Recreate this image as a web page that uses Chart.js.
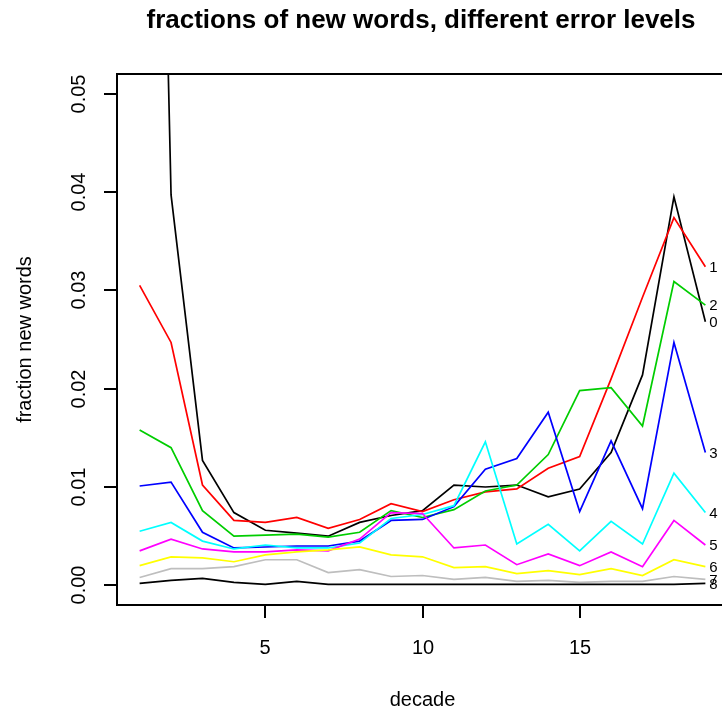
<!DOCTYPE html>
<html>
<head>
<meta charset="utf-8">
<script src="https://cdn.jsdelivr.net/npm/chart.js@4/dist/chart.umd.min.js"></script>
<style>
  html, body { margin: 0; padding: 0; background: #fff; overflow: hidden; width: 722px; height: 714px; }
  #wrap { position: relative; width: 760px; height: 714px; }
</style>
</head>
<body>
<div id="wrap"><canvas id="c" width="760" height="714"></canvas></div>
<script>
// decades on the x axis
const decades = [1,2,3,4,5,6,7,8,9,10,11,12,13,14,15,16,17,18,19];

// fraction of new words per decade, one series per error level
const err0 = [0.18, 0.0397, 0.0127, 0.0074, 0.0056, 0.0053, 0.0050, 0.0064, 0.0071, 0.0076, 0.0102, 0.0100, 0.0102, 0.0090, 0.0098, 0.0135, 0.0214, 0.0395, 0.0268];
const err1 = [0.0305, 0.0247, 0.0102, 0.0066, 0.0064, 0.0069, 0.0058, 0.0067, 0.0083, 0.0075, 0.0087, 0.0095, 0.0098, 0.0119, 0.0131, 0.0210, 0.0293, 0.0374, 0.0324];
const err2 = [0.0158, 0.0140, 0.0076, 0.0050, 0.0051, 0.0052, 0.0049, 0.0054, 0.0076, 0.0069, 0.0077, 0.0096, 0.0102, 0.0133, 0.0198, 0.0201, 0.0162, 0.0309, 0.0285];
const err3 = [0.0101, 0.0105, 0.0054, 0.0038, 0.0039, 0.0040, 0.0040, 0.0045, 0.0066, 0.0067, 0.0080, 0.0118, 0.0129, 0.0176, 0.0075, 0.0147, 0.0078, 0.0247, 0.0135];
const err4 = [0.0055, 0.0064, 0.0045, 0.0037, 0.0041, 0.0038, 0.0038, 0.0043, 0.0068, 0.0072, 0.0081, 0.0146, 0.0042, 0.0062, 0.0035, 0.0065, 0.0042, 0.0114, 0.0074];
const err5 = [0.0035, 0.0047, 0.0037, 0.0034, 0.0034, 0.0036, 0.0035, 0.0047, 0.0074, 0.0073, 0.0038, 0.0041, 0.0021, 0.0032, 0.0020, 0.0034, 0.0019, 0.0066, 0.0041];
const err6 = [0.0020, 0.0029, 0.0028, 0.0024, 0.0031, 0.0034, 0.0036, 0.0039, 0.0031, 0.0029, 0.0018, 0.0019, 0.0012, 0.0015, 0.0011, 0.0017, 0.0010, 0.0026, 0.0019];
const err7 = [0.0008, 0.0017, 0.0017, 0.0019, 0.0026, 0.0026, 0.0013, 0.0016, 0.0009, 0.0010, 0.0006, 0.0008, 0.0004, 0.0005, 0.0003, 0.0004, 0.0004, 0.0009, 0.0006];
const err8 = [0.0002, 0.0005, 0.0007, 0.0003, 0.0001, 0.0004, 0.0001, 0.0001, 0.0001, 0.0001, 0.0001, 0.0001, 0.0001, 0.0001, 0.0001, 0.0001, 0.0001, 0.0001, 0.0002];

const levelLabels = ['0','1','2','3','4','5','6','7','8'];
const levelColors = ['#000000','#FF0000','#00CD00','#0000FF','#00FFFF','#FF00FF','#FFFF00','#BEBEBE','#000000'];

const xTicks = [5, 10, 15];
const yTicks = [0.00, 0.01, 0.02, 0.03, 0.04, 0.05];
const yTickLabels = ['0.00','0.01','0.02','0.03','0.04','0.05'];

const titleText = 'fractions of new words, different error levels';
const xTitle = 'decade';
const yTitle = 'fraction new words';

const series = [err0, err1, err2, err3, err4, err5, err6, err7, err8];

const datasets = series.map((vals, i) => ({
  label: levelLabels[i],
  data: decades.map((d, j) => ({ x: d, y: vals[j] })),
  borderColor: levelColors[i],
  borderWidth: 1.7,
  pointRadius: 0,
  tension: 0,
  fill: false,
  order: series.length - 1 - i
}));

const FONT = '"Liberation Sans", Arial, Helvetica, sans-serif';

// frame, axes, titles and end-of-line labels in base-graphics style
const framePlugin = {
  id: 'frame',
  afterDraw(chart) {
    const ctx = chart.ctx;
    const a = chart.chartArea;
    const xs = chart.scales.x, ys = chart.scales.y;
    ctx.save();
    ctx.strokeStyle = '#000';
    ctx.lineWidth = 2;
    ctx.strokeRect(a.left, a.top, a.right - a.left, a.bottom - a.top);

    // x ticks and labels
    ctx.fillStyle = '#000';
    ctx.font = '20px ' + FONT;
    ctx.textAlign = 'center';
    ctx.textBaseline = 'middle';
    xTicks.forEach(t => {
      const px = Math.round(xs.getPixelForValue(t));
      ctx.beginPath();
      ctx.moveTo(px, a.bottom);
      ctx.lineTo(px, a.bottom + 13);
      ctx.stroke();
      ctx.fillText(String(t), px, 648);
    });

    // y ticks and rotated labels
    yTicks.forEach((t, i) => {
      const py = Math.round(ys.getPixelForValue(t));
      ctx.beginPath();
      ctx.moveTo(a.left, py);
      ctx.lineTo(a.left - 13, py);
      ctx.stroke();
      ctx.save();
      ctx.translate(79, py);
      ctx.rotate(-Math.PI / 2);
      ctx.fillText(yTickLabels[i], 0, 0);
      ctx.restore();
    });

    // axis titles
    ctx.fillText(xTitle, (a.left + 728) / 2, 700);
    ctx.save();
    ctx.translate(25, (a.top + a.bottom) / 2);
    ctx.rotate(-Math.PI / 2);
    ctx.fillText(yTitle, 0, 0);
    ctx.restore();

    // main title
    ctx.font = 'bold 26px ' + FONT;
    ctx.fillText(titleText, 421, 21);

    // level labels at the last decade
    ctx.font = '15px ' + FONT;
    ctx.textAlign = 'left';
    const last = decades.length - 1;
    series.forEach((vals, i) => {
      const px = xs.getPixelForValue(decades[last]);
      const py = ys.getPixelForValue(vals[last]);
      ctx.fillText(levelLabels[i], px + 4, py + 1);
    });
    ctx.restore();
  }
};

new Chart(document.getElementById('c'), {
  type: 'line',
  data: { datasets },
  options: {
    responsive: false,
    animation: false,
    devicePixelRatio: 1,
    layout: { padding: { left: 0, top: 74, right: 32, bottom: 0 } },
    plugins: { legend: { display: false }, tooltip: { enabled: false }, title: { display: false } },
    scales: {
      x: {
        type: 'linear',
        min: 0.28,
        max: 19.72,
        grid: { display: false },
        border: { display: false },
        ticks: { display: false },
        afterFit(s) { s.height = 109; }
      },
      y: {
        type: 'linear',
        min: -0.002,
        max: 0.052,
        grid: { display: false },
        border: { display: false },
        ticks: { display: false },
        afterFit(s) { s.width = 117; }
      }
    }
  },
  plugins: [framePlugin]
});
</script>
</body>
</html>
